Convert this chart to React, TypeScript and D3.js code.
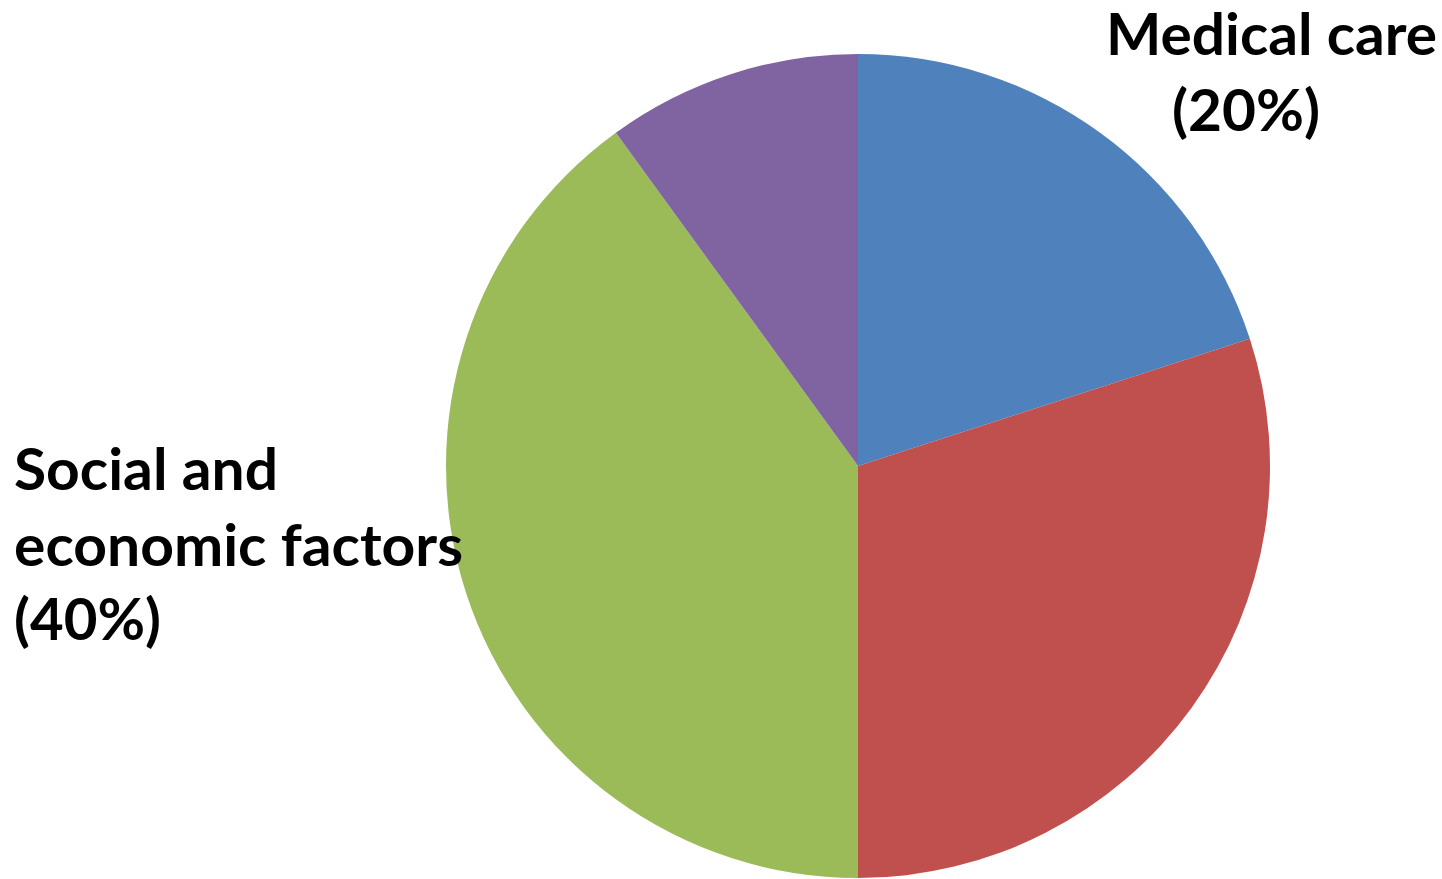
import * as React from "react";
import * as d3 from "d3";

// slice data, clockwise from 12 o'clock
const categories = ["Medical care", "Other A", "Social and economic factors", "Other B"];
const shares = [20, 30, 40, 10];
const colors = ["#4F81BD", "#C0504D", "#9BBB59", "#8064A2"];

// label lines (only two slices are labelled in the picture)
const medicalLines = ["Medical care", "(20%)"];
const socialLines = ["Social and", "economic factors", "(40%)"];

const WIDTH = 1442;
const HEIGHT = 879;

export default function App() {
  const cx = 858;
  const cy = 466;
  const radius = 412;

  const pie = d3.pie<number>().sort(null).value(d => d);
  const arc = d3.arc<d3.PieArcDatum<number>>().innerRadius(0).outerRadius(radius);
  const arcs = pie(shares);

  const fontStyle: React.CSSProperties = {
    fontFamily: "Lato, 'Open Sans', sans-serif",
    fontWeight: 700,
    fontSize: 57,
    fill: "#000",
  };

  // rough widths of each rendered line, so the narrower Calibri look is kept
  const medicalX = [1106, 1172];
  const medicalY = [55, 131];
  const medicalLen = [331, 148];
  const socialY = [490, 566, 640];
  const socialLen = [264, 449, 147];

  return (
    <div style={{ position: "fixed", left: 0, top: 0 }}>
      <svg width={WIDTH} height={HEIGHT} style={{ display: "block", background: "#fff" }}>
        <g transform={`translate(${cx},${cy})`}>
          {arcs.map((a, i) => (
            <path key={categories[i]} d={arc(a) || ""} fill={colors[i]} />
          ))}
        </g>
        {medicalLines.map((t, i) => (
          <text key={t} x={medicalX[i]} y={medicalY[i]} style={fontStyle}
            textLength={medicalLen[i]} lengthAdjust="spacingAndGlyphs">{t}</text>
        ))}
        {socialLines.map((t, i) => (
          <text key={t} x={14} y={socialY[i]} style={fontStyle}
            textLength={socialLen[i]} lengthAdjust="spacingAndGlyphs">{t}</text>
        ))}
      </svg>
    </div>
  );
}
